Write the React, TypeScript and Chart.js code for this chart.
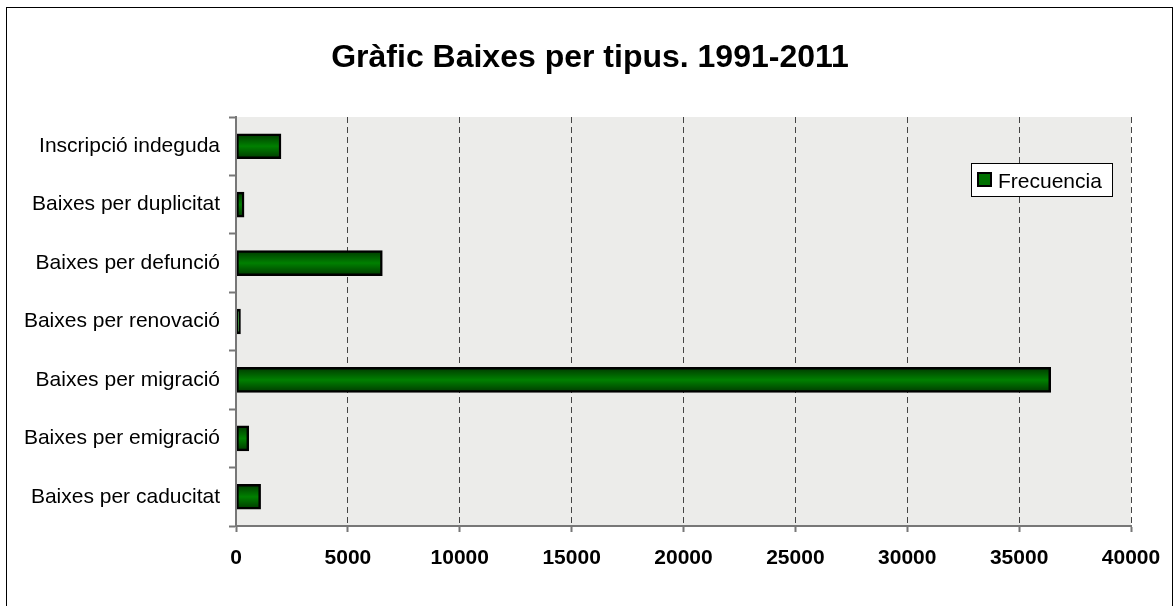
import React, { useEffect, useRef } from "react";
import { Chart, registerables } from "chart.js";

Chart.register(...registerables);

const TITLE = "Gràfic Baixes per tipus. 1991-2011";
const SERIES_LABEL = "Frecuencia";
const CATEGORIES = [
  "Inscripció indeguda",
  "Baixes per duplicitat",
  "Baixes per defunció",
  "Baixes per renovació",
  "Baixes per migració",
  "Baixes per emigració",
  "Baixes per caducitat",
];
const VALUES = [2010, 360, 6540, 200, 36410, 570, 1100];
const X_MIN = 0;
const X_MAX = 40000;
const X_STEP = 5000;

const FONT = "'Liberation Sans', Arial, Helvetica, sans-serif";

const decorPlugin = {
  id: "decor",
  beforeDraw(chart: any) {
    const { ctx, chartArea } = chart;
    ctx.save();
    ctx.fillStyle = "#ffffff";
    ctx.fillRect(0, 0, chart.width, chart.height);
    ctx.strokeStyle = "#000000";
    ctx.lineWidth = 1;
    ctx.strokeRect(6.5, 7.5, 1166, 700);
    ctx.fillStyle = "#ececea";
    ctx.fillRect(chartArea.left, chartArea.top, chartArea.right - chartArea.left, chartArea.bottom - chartArea.top);
    // title
    ctx.fillStyle = "#000000";
    ctx.font = `bold 32px ${FONT}`;
    ctx.textAlign = "center";
    ctx.textBaseline = "alphabetic";
    ctx.fillText(TITLE, 590, 67);
    ctx.restore();
  },
  afterDraw(chart: any) {
    const { ctx, chartArea } = chart;
    ctx.save();
    // solid axis lines
    ctx.strokeStyle = "#777777";
    ctx.lineWidth = 2;
    ctx.setLineDash([]);
    ctx.beginPath();
    ctx.moveTo(chartArea.left, chartArea.top);
    ctx.lineTo(chartArea.left, chartArea.bottom);
    ctx.lineTo(chartArea.right, chartArea.bottom);
    ctx.stroke();
    // legend box
    const lx = 971, ly = 163, lw = 142, lh = 34;
    ctx.fillStyle = "#ffffff";
    ctx.fillRect(lx, ly, lw, lh);
    ctx.strokeStyle = "#000000";
    ctx.lineWidth = 1;
    ctx.strokeRect(lx + 0.5, ly + 0.5, lw - 1, lh - 1);
    // marker
    ctx.fillStyle = "#007000";
    ctx.fillRect(977, 172, 15, 15);
    ctx.strokeStyle = "#000000";
    ctx.lineWidth = 2;
    ctx.strokeRect(978, 173, 13, 13);
    ctx.fillStyle = "#000000";
    ctx.font = `21px ${FONT}`;
    ctx.textAlign = "left";
    ctx.textBaseline = "alphabetic";
    const ds = chart.data.datasets[0];
    ctx.fillText(ds.label, 998, 188);
    ctx.restore();
  },
};

export default function App() {
  const ref = useRef<HTMLCanvasElement | null>(null);

  useEffect(() => {
    if (!ref.current) return;
    const chart = new Chart(ref.current, {
      type: "bar",
      data: {
        labels: CATEGORIES,
        datasets: [
          {
            label: SERIES_LABEL,
            data: VALUES,
            backgroundColor: (c: any) => {
              const chart = c.chart;
              const ys = chart.scales && chart.scales.y;
              if (!ys || c.dataIndex == null) return "#007000";
              const yc = ys.getPixelForValue(c.dataIndex);
              if (!Number.isFinite(yc)) return "#007000";
              const g = chart.ctx.createLinearGradient(0, yc - 12.5, 0, yc + 12.5);
              g.addColorStop(0, "#003800");
              g.addColorStop(0.5, "#008000");
              g.addColorStop(1, "#003800");
              return g;
            },
            borderColor: "#000000",
            borderWidth: 2.5,
            borderSkipped: false,
            barThickness: 25,
          },
        ],
      },
      options: {
        indexAxis: "y",
        responsive: false,
        animation: false,
        layout: { padding: { top: 117, right: 44, bottom: 0, left: 0 } },
        plugins: {
          legend: { display: false },
          title: { display: false },
          tooltip: { enabled: false },
        },
        scales: {
          x: {
            type: "linear",
            min: X_MIN,
            max: X_MAX,
            ticks: {
              stepSize: X_STEP,
              color: "#000000",
              font: { family: FONT, size: 21, weight: "bold" },
              padding: 14,
              maxRotation: 0,
              callback: (v: any) => String(v),
            },
            grid: {
              color: (c: any) => (c.tick && c.tick.value === 0 ? "rgba(0,0,0,0)" : "#444444"),
              lineWidth: 1,
              drawTicks: true,
              tickLength: 6,
              tickColor: "#777777",
              tickBorderDash: [],
              tickWidth: 2,
            },
            border: { display: true, color: "#777777", width: 2, dash: [6, 4] },
            afterFit(scale: any) {
              scale.height = 80;
            },
          },
          y: {
            type: "category",
            ticks: {
              color: "#000000",
              font: { family: FONT, size: 21 },
              padding: 9,
            },
            grid: {
              offset: true,
              drawOnChartArea: false,
              drawTicks: true,
              tickLength: 7,
              color: "#777777",
              tickColor: "#777777",
              tickBorderDash: [],
              tickWidth: 2,
            },
            border: { display: true, color: "#777777", width: 2 },
            afterFit(scale: any) {
              scale.width = 236;
            },
          },
        },
      },
      plugins: [decorPlugin],
    } as any);
    return () => chart.destroy();
  }, []);

  return (
    <div style={{ position: "absolute", left: 0, top: 0, width: 1175, height: 606, overflow: "hidden", background: "#fff" }}>
      <canvas ref={ref} width={1175} height={606} style={{ display: "block", width: 1175, height: 606 }} />
    </div>
  );
}
